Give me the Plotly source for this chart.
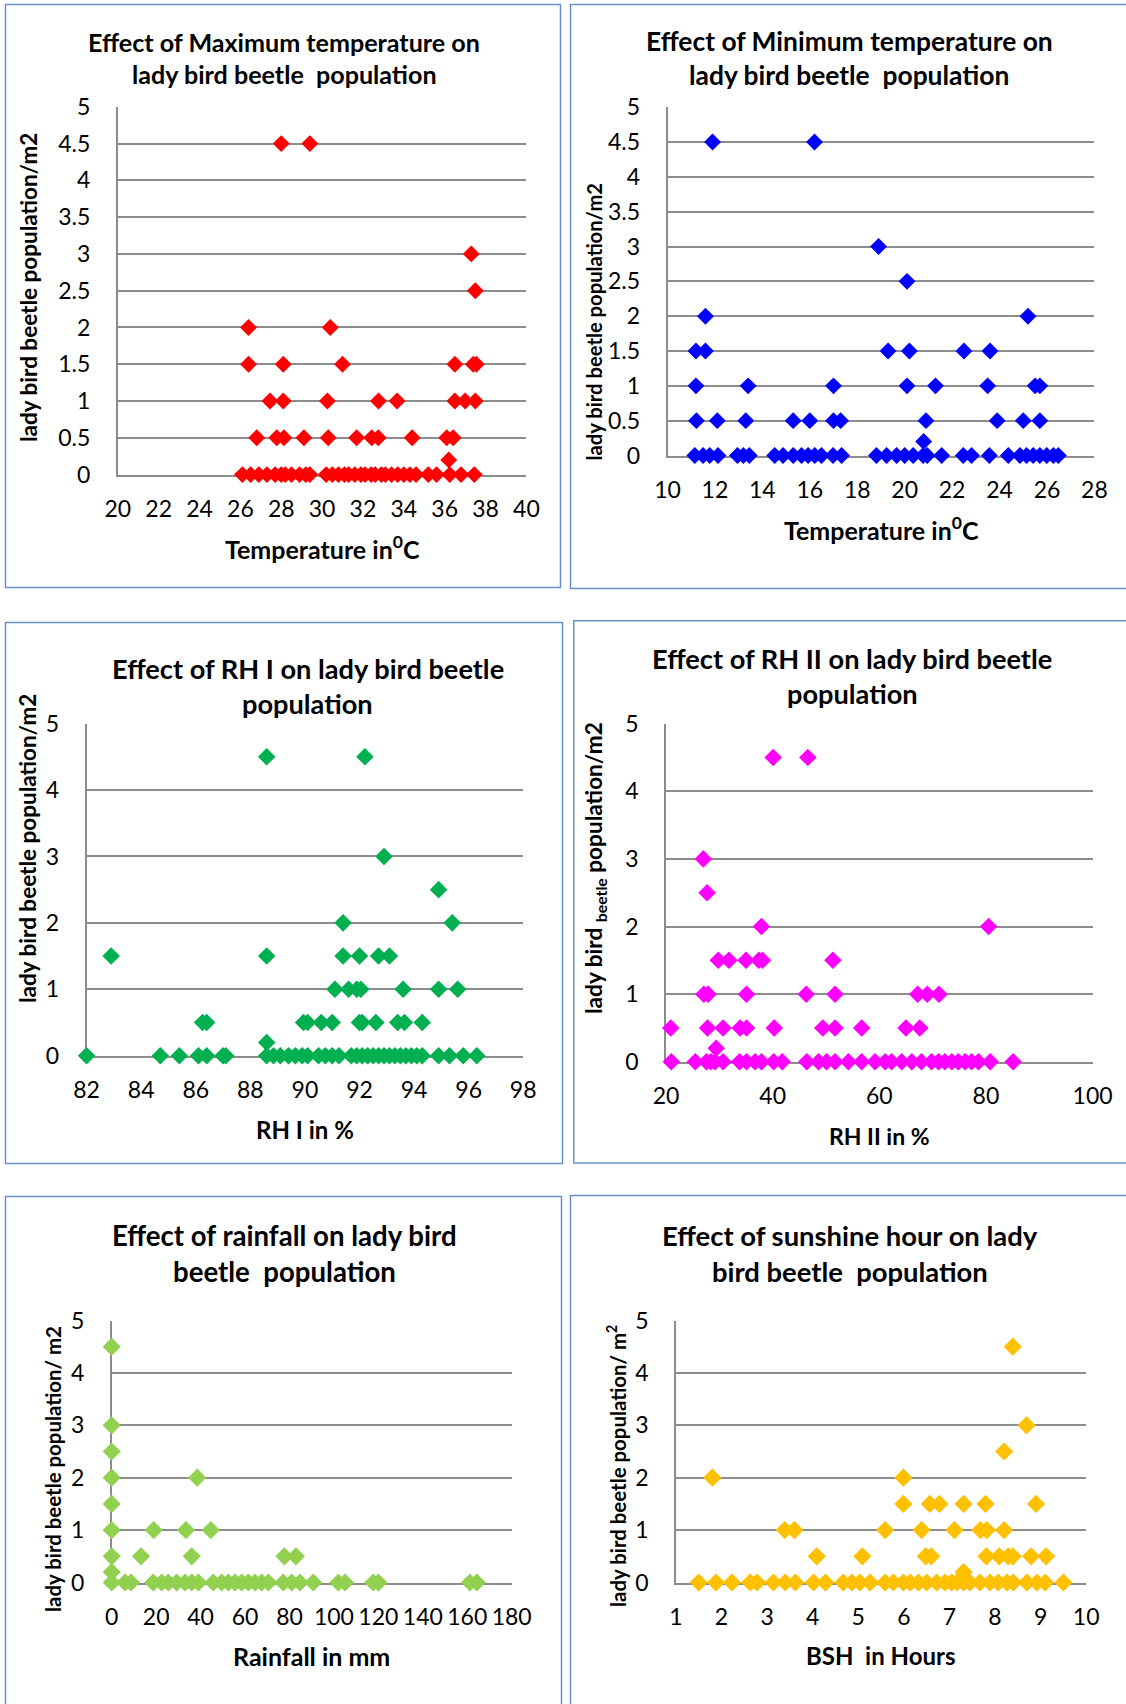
import plotly.graph_objects as go

W, H = 1126, 1704

# ---------------- data ----------------
maxT_temp = [28.0, 29.4, 37.3, 37.5, 26.4, 30.4,
             26.4, 28.1, 31.0, 36.5, 37.4, 37.55,
             27.45, 28.1, 30.26, 32.76, 33.67, 36.5, 37.0, 37.5,
             26.8, 27.78, 28.13, 29.11, 30.3, 31.69, 32.43, 32.75, 34.41, 36.1, 36.42,
             36.2,
             26.1, 26.5, 26.9, 27.3, 27.7, 28.0, 28.2, 28.5, 28.9, 29.2, 29.4, 30.2, 30.5, 30.8,
             31.1, 31.3, 31.6, 31.9, 32.1, 32.4, 32.6, 32.9, 33.1, 33.4, 33.7, 34.0, 34.3, 34.6,
             35.2, 35.6, 36.25, 36.8, 37.45]
maxT_pop = [4.5, 4.5, 3, 2.5, 2, 2,
            1.5, 1.5, 1.5, 1.5, 1.5, 1.5,
            1, 1, 1, 1, 1, 1, 1, 1,
            0.5, 0.5, 0.5, 0.5, 0.5, 0.5, 0.5, 0.5, 0.5, 0.5, 0.5,
            0.2,
            0, 0, 0, 0, 0, 0, 0, 0, 0, 0, 0, 0, 0, 0,
            0, 0, 0, 0, 0, 0, 0, 0, 0, 0, 0, 0, 0, 0,
            0, 0, 0, 0, 0]

minT_temp = [11.9, 16.2, 18.9, 20.1, 11.6, 25.2,
             11.2, 11.6, 19.3, 20.2, 22.5, 23.6,
             11.2, 13.4, 17.0, 20.1, 21.3, 23.5, 25.5, 25.7,
             11.22, 12.1, 13.3, 15.3, 16.0, 17.0, 17.3, 20.9, 23.9, 25.0, 25.7,
             20.8,
             11.15, 11.5, 11.78, 12.13, 12.95, 13.2, 13.45, 14.52, 14.87, 15.3, 15.65, 15.93,
             16.21, 16.49, 16.98, 17.34, 18.81, 19.24, 19.66, 20.0, 20.36, 20.78, 20.95, 21.56,
             22.47, 22.82, 23.57, 24.37, 24.86, 25.14, 25.42, 25.7, 25.99, 26.27, 26.48]
minT_pop = [4.5, 4.5, 3, 2.5, 2, 2,
            1.5, 1.5, 1.5, 1.5, 1.5, 1.5,
            1, 1, 1, 1, 1, 1, 1, 1,
            0.5, 0.5, 0.5, 0.5, 0.5, 0.5, 0.5, 0.5, 0.5, 0.5, 0.5,
            0.2,
            0, 0, 0, 0, 0, 0, 0, 0, 0, 0, 0, 0,
            0, 0, 0, 0, 0, 0, 0, 0, 0, 0, 0, 0,
            0, 0, 0, 0, 0, 0, 0, 0, 0, 0, 0]

rh1 = [88.6, 92.2, 92.9, 94.9, 91.4, 95.4,
       82.9, 88.6, 91.4, 92.0, 92.7, 93.1,
       91.1, 91.6, 91.9, 92.05, 93.6, 94.9, 95.6,
       86.25, 86.4, 89.95, 90.1, 90.6, 91.0, 92.0, 92.1, 92.6, 93.4, 93.65, 94.3,
       88.6,
       82.0, 84.7, 85.4, 86.1, 86.4, 87.0, 87.1, 88.6, 88.85, 89.1, 89.4, 89.65,
       89.9, 90.1, 90.5, 90.75, 91.0, 91.25, 91.7, 91.9, 92.1, 92.3, 92.5, 92.7,
       92.9, 93.1, 93.3, 93.5, 93.7, 93.9, 94.1, 94.3, 94.9, 95.3, 95.8, 96.3]
rh1_pop = [4.5, 4.5, 3, 2.5, 2, 2,
           1.5, 1.5, 1.5, 1.5, 1.5, 1.5,
           1, 1, 1, 1, 1, 1, 1,
           0.5, 0.5, 0.5, 0.5, 0.5, 0.5, 0.5, 0.5, 0.5, 0.5, 0.5, 0.5,
           0.2,
           0, 0, 0, 0, 0, 0, 0, 0, 0, 0, 0, 0,
           0, 0, 0, 0, 0, 0, 0, 0, 0, 0, 0, 0,
           0, 0, 0, 0, 0, 0, 0, 0, 0, 0, 0, 0]

rh2 = [40.1, 46.6, 27.0, 27.7, 37.9, 80.5,
       29.8, 31.8, 35.0, 37.4, 38.1, 51.3,
       27.1, 27.9, 35.1, 46.3, 51.7, 67.2, 69.0, 71.2,
       20.9, 27.8, 30.7, 33.9, 35.1, 40.3, 49.4, 51.7, 56.7, 65.0, 67.6,
       29.4,
       21.0, 25.5, 27.6, 28.4, 29.2, 30.7, 33.8, 35.1, 36.7, 37.9, 40.2, 41.8,
       46.4, 48.6, 50.1, 51.7, 54.2, 56.7, 59.2, 61.1, 62.3, 64.2, 66.1, 67.9,
       69.8, 71.1, 72.3, 73.6, 74.8, 76.1, 77.3, 78.6, 80.8, 85.1]
rh2_pop = [4.5, 4.5, 3, 2.5, 2, 2,
           1.5, 1.5, 1.5, 1.5, 1.5, 1.5,
           1, 1, 1, 1, 1, 1, 1, 1,
           0.5, 0.5, 0.5, 0.5, 0.5, 0.5, 0.5, 0.5, 0.5, 0.5, 0.5,
           0.2,
           0, 0, 0, 0, 0, 0, 0, 0, 0, 0, 0, 0,
           0, 0, 0, 0, 0, 0, 0, 0, 0, 0, 0, 0,
           0, 0, 0, 0, 0, 0, 0, 0, 0, 0]

rain = [0, 0, 0, 0, 0, 0, 0, 0, 0,
        38.5,
        18.9, 33.4, 44.6,
        13.2, 36.0, 77.7, 82.9,
        6.0, 8.7, 18.7, 22.5, 25.5, 29.2, 33.0, 36.0, 39.0, 45.7, 49.5, 52.5, 55.5, 58.5,
        61.5, 64.5, 67.5, 70.5, 77.2, 81.0, 84.7, 90.7, 102.0, 105.0, 117.7, 120.0, 161.2, 164.3]
rain_pop = [4.5, 3, 2.5, 2, 1.5, 1, 0.5, 0.2, 0,
            2,
            1, 1, 1,
            0.5, 0.5, 0.5, 0.5,
            0, 0, 0, 0, 0, 0, 0, 0, 0, 0, 0, 0, 0, 0,
            0, 0, 0, 0, 0, 0, 0, 0, 0, 0, 0, 0, 0, 0]

bsh = [8.39, 8.69, 8.2, 1.8, 5.99,
       5.99, 6.57, 6.78, 7.31, 7.79, 8.9,
       3.39, 3.6, 5.59, 6.39, 7.11, 7.68, 7.82, 8.2,
       4.09, 5.09, 6.48, 6.6, 7.81, 8.09, 8.29, 8.39, 8.79, 9.12,
       7.31,
       1.5, 1.88, 2.23, 2.63, 2.78, 3.14, 3.4, 3.62, 4.02, 4.28, 4.67, 4.86, 5.04, 5.26,
       5.59, 5.77, 5.99, 6.14, 6.32, 6.5, 6.72, 6.9, 7.05, 7.16, 7.31, 7.45, 7.67, 7.89,
       8.07, 8.26, 8.4, 8.7, 8.92, 9.1, 9.5]
bsh_pop = [4.5, 3, 2.5, 2, 2,
           1.5, 1.5, 1.5, 1.5, 1.5, 1.5,
           1, 1, 1, 1, 1, 1, 1, 1,
           0.5, 0.5, 0.5, 0.5, 0.5, 0.5, 0.5, 0.5, 0.5, 0.5,
           0.2,
           0, 0, 0, 0, 0, 0, 0, 0, 0, 0, 0, 0, 0, 0,
           0, 0, 0, 0, 0, 0, 0, 0, 0, 0, 0, 0, 0, 0,
           0, 0, 0, 0, 0, 0, 0]

titles = [
    ["Effect of Maximum temperature on", "lady bird beetle  population"],
    ["Effect of Minimum temperature on", "lady bird beetle  population"],
    ["Effect of RH I on lady bird beetle", "population"],
    ["Effect of RH II on lady bird beetle", "population"],
    ["Effect of rainfall on lady bird", "beetle  population"],
    ["Effect of sunshine hour on lady", "bird beetle  population"],
]
x_titles = ["Temperature in<sup>0</sup>C", "Temperature in<sup>0</sup>C", "RH I in %",
            "RH II in %", "Rainfall in mm", "BSH  in Hours"]
y_titles = ["lady bird beetle population/m2", "lady bird beetle population/m2",
            "lady bird beetle population/m2",
            "lady bird <sub>beetle</sub> population/m2",
            "lady bird beetle population/ m2",
            "lady bird beetle population/ m<sup>2</sup>"]

series_x = [maxT_temp, minT_temp, rh1, rh2, rain, bsh]
series_y = [maxT_pop, minT_pop, rh1_pop, rh2_pop, rain_pop, bsh_pop]
colors = ["#FF0000", "#0000FF", "#00B050", "#FF00FF", "#92D050", "#FFC000"]
x_ranges = [[20, 40], [10, 28], [82, 98], [20, 100], [0, 180], [1, 10]]
x_dticks = [2, 2, 2, 20, 20, 1]
y_dticks = [0.5, 0.5, 1, 1, 1, 1]

# ---------------- layout (pixels) ----------------
plot_boxes = [  # left, right, top, bottom
    (117.8, 526.4, 106.8, 474.6),
    (667.5, 1094.4, 107.2, 455.5),
    (86.6, 523.2, 723.6, 1055.7),
    (666.0, 1092.6, 723.6, 1061.8),
    (111.7, 511.7, 1320.5, 1582.5),
    (675.9, 1086.2, 1320.5, 1582.5),
]
borders = [
    (5.5, 560.5, 4.5, 587.5),
    (570.5, 1130, 4.5, 588.5),
    (5.5, 562.5, 622.5, 1163.5),
    (573.8, 1130, 620.7, 1162.9),
    (5.5, 561.5, 1196.6, 1710),
    (570.5, 1130, 1195.6, 1710),
]
title_pos = [(284, 42, 74), (849, 40.5, 75), (308, 668, 703), (852, 658, 694),
             (284, 1235, 1271), (850, 1235, 1271)]
title_size = [25.1, 26.4, 27.2, 27.2, 27.6, 27.4]
xt_pos = [(322, 547), (881, 528.5), (305, 1129), (879, 1136), (311.7, 1656), (881, 1655)]
xt_size = [25, 25, 24, 23, 25, 24]
yt_pos = [(28, 288), (593.5, 322), (28, 849), (595, 868), (53, 1469), (616, 1466)]
yt_size = [22.5, 20.2, 22.5, 22.6, 20.4, 20.4]
marker_sizes = [13, 13, 13.5, 13.5, 14, 14]

FONT = "Lato"
GRID = "#8C8C8C"
TICK_SIZE = 23

def fx(px):
    return px / W

def fy(py):
    return 1 - py / H

fig = go.Figure()
annotations = []
shapes = []
layout = {}

for i in range(6):
    n = "" if i == 0 else str(i + 1)
    L, R, T, B = plot_boxes[i]
    fig.add_trace(go.Scatter(
        x=series_x[i], y=series_y[i], mode="markers",
        marker=dict(symbol="diamond", size=marker_sizes[i], color=colors[i], line=dict(width=0)),
        xaxis="x" + n, yaxis="y" + n, cliponaxis=False, showlegend=False,
        hoverinfo="x+y"))
    layout["xaxis" + n] = dict(
        domain=[fx(L), fx(R)], anchor="y" + n, range=x_ranges[i], dtick=x_dticks[i],
        tick0=0, showgrid=False, zeroline=False, showline=True, linecolor=GRID,
        linewidth=1.6, ticks="", ticklabelstandoff=13, layer="below traces",
        automargin=False,
        tickfont=dict(family=FONT, size=TICK_SIZE, color="#000000"), fixedrange=True)
    layout["yaxis" + n] = dict(
        domain=[fy(B), fy(T)], anchor="x" + n, range=[0, 5], dtick=y_dticks[i], tick0=0,
        showgrid=True, gridcolor=GRID, gridwidth=1.6, zeroline=False, showline=True,
        linecolor=GRID, linewidth=1.6, ticks="", ticklabelstandoff=21,
        layer="below traces", automargin=False,
        tickfont=dict(family=FONT, size=TICK_SIZE, color="#000000"), fixedrange=True)

    cx, y1, y2 = title_pos[i]
    for txt, yy in zip(titles[i], (y1, y2)):
        annotations.append(dict(
            text="<b>" + txt + "</b>", x=fx(cx), y=fy(yy), xref="paper", yref="paper",
            xanchor="center", yanchor="middle", showarrow=False,
            font=dict(family=FONT, size=title_size[i], color="#000000")))
    xx, yy = xt_pos[i]
    annotations.append(dict(
        text="<b>" + x_titles[i] + "</b>", x=fx(xx), y=fy(yy), xref="paper", yref="paper",
        xanchor="center", yanchor="middle", showarrow=False,
        font=dict(family=FONT, size=xt_size[i], color="#000000")))
    xx, yy = yt_pos[i]
    annotations.append(dict(
        text="<b>" + y_titles[i] + "</b>", x=fx(xx), y=fy(yy), xref="paper", yref="paper",
        xanchor="center", yanchor="middle", showarrow=False, textangle=-90,
        font=dict(family=FONT, size=yt_size[i], color="#000000")))

    bl, br, bt, bb = borders[i]
    shapes.append(dict(type="rect", xref="paper", yref="paper",
                       x0=fx(bl), x1=fx(br), y0=fy(bb), y1=fy(bt),
                       line=dict(color="#6A8FC7", width=1.5), layer="below"))

fig.update_layout(
    width=W, height=H, margin=dict(l=0, r=0, t=0, b=0, pad=0, autoexpand=False),
    paper_bgcolor="#FFFFFF", plot_bgcolor="#FFFFFF",
    annotations=annotations, shapes=shapes, showlegend=False,
    font=dict(family=FONT, color="#000000"),
    **layout)

fig.write_html(
    "out.html",
    config={"displayModeBar": False},
    post_script="document.body.style.margin='0';document.body.style.padding='0';"
                "document.body.style.overflow='hidden';")
